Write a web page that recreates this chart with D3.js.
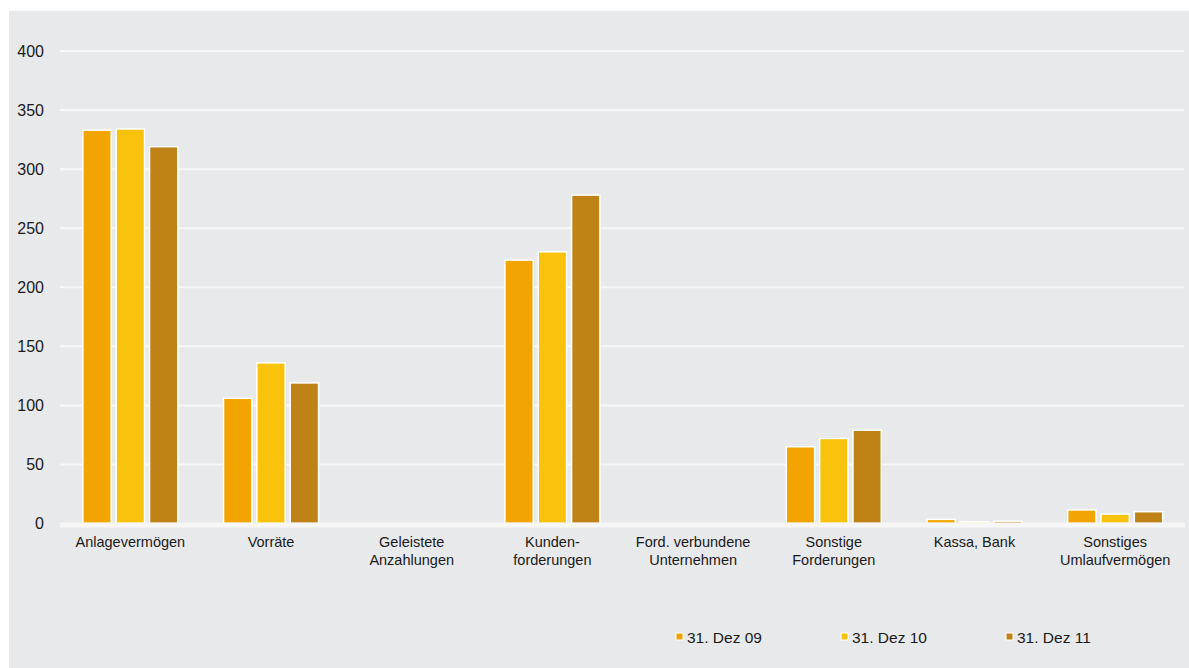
<!DOCTYPE html>
<html>
<head>
<meta charset="utf-8">
<script src="https://cdn.jsdelivr.net/npm/d3@7"></script>
<style>
  body { margin: 0; background: #ffffff; }
  text { font-family: "Liberation Sans", Arial, sans-serif; fill: #1a1a1a; }
</style>
</head>
<body>
<div class="chart"></div>
<script>
"use strict";

// categories (line breaks as in the original)
var categories = [
  ["Anlagevermögen"],
  ["Vorräte"],
  ["Geleistete", "Anzahlungen"],
  ["Kunden-", "forderungen"],
  ["Ford. verbundene", "Unternehmen"],
  ["Sonstige", "Forderungen"],
  ["Kassa, Bank"],
  ["Sonstiges", "Umlaufvermögen"]
];
var seriesNames = ["31. Dez 09", "31. Dez 10", "31. Dez 11"];
var dez09 = [333, 106, 0, 223, 0, 65, 3.5, 11.5];
var dez10 = [334, 136, 0, 230, 0, 72, 1.5, 8];
var dez11 = [319, 119, 0, 278, 0, 79, 2, 10];
var yTicks = [0, 50, 100, 150, 200, 250, 300, 350, 400];
var colors = ["#f2a500", "#f9c20c", "#bf8216"];

var width = 1189, height = 668;
var series = [dez09, dez10, dez11];

var svg = d3.select(".chart")
  .append("svg")
  .attr("width", width)
  .attr("height", height);

// grey panel
svg.append("rect")
  .attr("x", 9).attr("y", 11)
  .attr("width", width - 9).attr("height", height - 11)
  .attr("fill", "#e8e9eb");

var x0 = d3.scaleBand()
  .domain(d3.range(categories.length))
  .range([60, 1185.5]);

var y = d3.scaleLinear()
  .domain([0, 400])
  .range([523.5, 51]);

var groupW = 100;
var x1 = d3.scaleBand()
  .domain(d3.range(series.length))
  .range([(x0.bandwidth() - groupW) / 2, (x0.bandwidth() + groupW) / 2])
  .paddingInner(0.15)
  .paddingOuter(0.075);

// gridlines
svg.append("g")
  .selectAll("line")
  .data(yTicks.filter(function(d){ return d > 0; }))
  .enter().append("line")
    .attr("x1", 60).attr("x2", 1184)
    .attr("y1", function(d){ return y(d); })
    .attr("y2", function(d){ return y(d); })
    .style("stroke", "#f7f7f7")
    .style("stroke-width", 2);

// y tick labels
svg.append("g")
  .selectAll("text")
  .data(yTicks)
  .enter().append("text")
    .attr("x", 44)
    .attr("y", function(d){ return y(d); })
    .attr("dy", "0.36em")
    .attr("text-anchor", "end")
    .style("font-size", "16px")
    .text(function(d){ return d; });

// bars
var groups = svg.append("g")
  .selectAll("g")
  .data(categories)
  .enter().append("g")
    .attr("transform", function(d, i){ return "translate(" + x0(i) + ",0)"; });

groups.selectAll("rect")
  .data(function(d, i){ return series.map(function(s, k){ return {k: k, v: s[i]}; }); })
  .enter().append("rect")
    .filter(function(d){ return d.v > 0; })
    .attr("x", function(d){ return x1(d.k); })
    .attr("width", x1.bandwidth())
    .attr("y", function(d){ return y(d.v); })
    .attr("height", function(d){ return y(0) - y(d.v); })
    .attr("fill", function(d){ return colors[d.k]; })
    .style("stroke", "#ffffff")
    .style("stroke-width", 1.5);

// baseline
svg.append("line")
  .attr("x1", 60).attr("x2", 1185)
  .attr("y1", y(0) + 1.5).attr("y2", y(0) + 1.5)
  .style("stroke", "#f7f7f7")
  .style("stroke-width", 5);

// category labels
groups.append("text")
  .attr("text-anchor", "middle")
  .attr("x", x0.bandwidth() / 2)
  .attr("y", 547)
  .style("font-size", "14.5px")
  .selectAll("tspan")
  .data(function(d){ return d; })
  .enter().append("tspan")
    .attr("x", x0.bandwidth() / 2)
    .attr("dy", function(d, i){ return i === 0 ? 0 : 18; })
    .text(function(d){ return d; });

// legend
var legend = svg.append("g")
  .selectAll("g")
  .data(seriesNames)
  .enter().append("g")
    .attr("transform", function(d, i){ return "translate(" + (676 + i * 165) + ",633)"; });

legend.append("rect")
  .attr("width", 7).attr("height", 7)
  .attr("fill", function(d, i){ return colors[i]; })
  .style("stroke", "#ffffff")
  .style("stroke-width", 1);

legend.append("text")
  .attr("x", 11)
  .attr("y", 4)
  .attr("dy", "0.36em")
  .style("font-size", "15.5px")
  .text(function(d){ return d; });
</script>
</body>
</html>
